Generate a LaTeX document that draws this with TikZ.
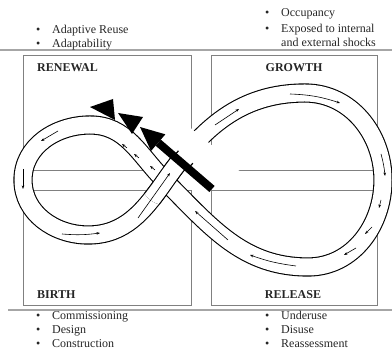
\documentclass[tikz,border=0pt]{standalone}
\usepackage{fontspec}
\setmainfont{Liberation Serif}
\usetikzlibrary{arrows.meta,calc}
\tikzset{
  panel/.style={draw=black!50, line width=0.9pt},
  rule/.style={draw=black!35, line width=1.1pt},
  phase/.style={font=\fontsize{12}{14}\selectfont\bfseries, text=black!85, inner sep=0pt},
  item/.style={anchor=base west, inner sep=0pt, font=\fontsize{12}{14}\selectfont, text=black!85},
  flow/.style={-{Stealth[length=3.5pt,width=2.6pt]}, line width=0.6pt},
}
\newcommand{\bul}{\makebox[16pt][l]{\textbullet}}

\begin{document}
\begin{tikzpicture}[x=1pt,y=1pt]
  \useasboundingbox (0,0) rectangle (392,355);

  % separators and the four quadrants
  \draw[rule] (0,305) -- (392,305);
  \draw[rule] (8,45) -- (392,45);
  \draw[panel] (23,185) rectangle (191,300);
  \draw[panel] (211,185) rectangle (377,300);
  \draw[panel] (23,50) rectangle (191,165);
  \draw[panel] (211,50) rectangle (377,165);

  \node[phase, anchor=west] (renewal) at (37,287) {RENEWAL};
  \node[phase] (growth) at (294,287) {GROWTH};
  \node[phase, anchor=west] (birth) at (37,60) {BIRTH};
  \node[phase] (release) at (293,60) {RELEASE};

  % bullet lists
  \node[item] (reuse) at (36,321) {\bul Adaptive Reuse};
  \node[item] (adapt) at (36,307) {\bul Adaptability};
  \node[item] (occupancy) at (265,338) {\bul Occupancy};
  \node[item] (shocks) at (265,322) {\bul Exposed to internal};
  \node[item] (shocks2) at (265,308) {\hspace{16pt}and external shocks};
  \foreach \txt [count=\i] in {Commissioning, Design, Construction}
    \node[item] (birth-\i) at (36,49-14*\i) {\bul\txt};
  \foreach \txt [count=\i] in {Underuse, Disuse, Reassessment}
    \node[item] (release-\i) at (265,49-14*\i) {\bul\txt};

  % figure of eight
  \coordinate (C) at (165,174);
  \coordinate (Ltop) at (90,230);
  \coordinate (Lleft) at (23,175);
  \coordinate (Lbot) at (88,120);
  \coordinate (Rtop) at (305,262);
  \coordinate (Rright) at (383,175);
  \coordinate (Rbot) at (308,88);

  \foreach \lw/\col in {19.2/black, 17/white}
    \draw[line width=\lw pt, draw=\col] (Ltop) to[out=180,in=90] (Lleft)
      to[out=270,in=180] (Lbot) to[out=0,in=235] (C) to[out=55,in=180] (Rtop)
      to[out=0,in=90] (Rright) to[out=270,in=0] (Rbot) to[out=180,in=315] (C)
      to[out=135,in=0] (Ltop);

  % the rising strand passes over
  \begin{scope}
    \clip (C) circle (24);
    \foreach \lw/\col in {19.2/black, 17/white}
      \draw[line width=\lw pt, draw=\col] (Lbot) to[out=0,in=235] (C) to[out=55,in=180] (Rtop);
  \end{scope}

  % big arrow
  \coordinate (tail) at (212,166);
  \coordinate (tip) at (140,228);
  \fill[white] (tail) -- (241,186) -- ($(tail)!0.68!(tip)!32pt!-90:(tip)$)
    -- ($(tail)!0.68!(tip)$) -- cycle;
  \draw[line width=8pt, -{Triangle[length=24pt,width=22pt,line width=0pt]}] (tail) -- (tip);
  \foreach \f in {0.33,0.53}
    \draw[line width=1.2pt] ($(tail)!\f!(tip)!3.5pt!-90:(tip)$) -- ($(tail)!\f!(tip)!7pt!-90:(tip)$);
  \fill (90,248) -- (113,256) -- (115,235) -- cycle;
  \fill (118,242) -- (143,238) -- (132,221) -- cycle;

  % flow marks inside the band
  \draw[flow] (58,224) -- (41,214);
  \draw[flow] (23,186) -- (23,166);
  \draw[flow] (62,121) to[bend right=6] (100,122);
  \draw[flow] (138,137) -- (170,182);
  \foreach \x/\y in {155/185, 139/197, 127/207}
    \draw[flow] (\x,\y) -- ++(-5,4);
  \draw[flow] (215,230) -- (239,246);
  \draw[flow] (290,261) to[bend left=8] (340,252);
  \draw[flow] (381,201) to[bend left=5] (385,179);
  \draw[flow] (381,155) -- (379,147);
  \draw[flow] (372,128) -- (365,121);
  \draw[flow] (356,107) -- (344,100);
  \draw[flow] (296,89) to[bend left=6] (250,100);
  \draw[flow] (228,115) -- (195,144);
\end{tikzpicture}
\end{document}
